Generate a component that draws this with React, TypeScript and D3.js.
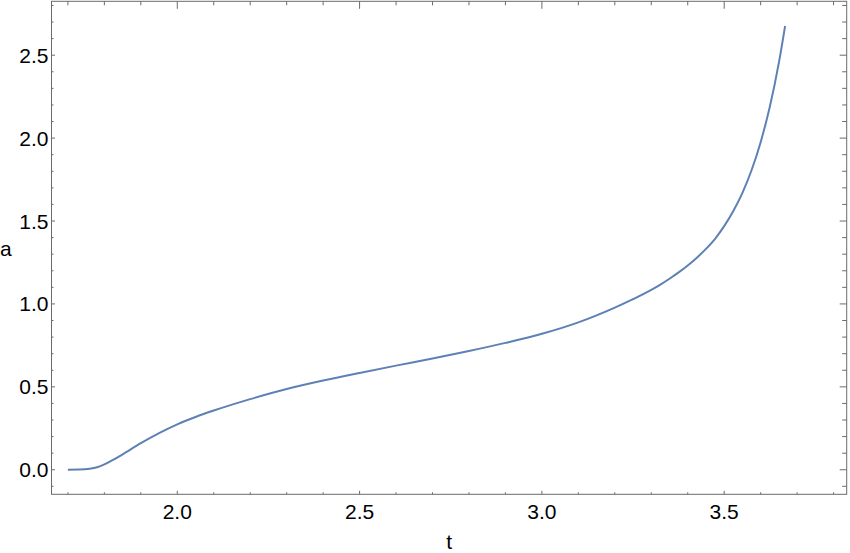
import * as d3 from 'd3';

// curve
const T = [1.70, 1.73, 1.76, 1.78, 1.80, 1.825, 1.85, 1.90, 1.95, 2.00, 2.05, 2.10, 2.20, 2.30, 2.40, 2.50, 2.60, 2.70, 2.80, 2.90, 3.00, 3.10, 3.20, 3.25, 3.30, 3.325, 3.35, 3.375, 3.40, 3.425, 3.45, 3.475, 3.50, 3.525, 3.55, 3.575, 3.60, 3.625, 3.65, 3.667];
const A = [0.000, 0.001, 0.006, 0.015, 0.032, 0.061, 0.093, 0.160, 0.221, 0.274, 0.318, 0.357, 0.426, 0.487, 0.538, 0.584, 0.628, 0.671, 0.716, 0.765, 0.820, 0.889, 0.978, 1.029, 1.085, 1.117, 1.152, 1.190, 1.232, 1.279, 1.332, 1.393, 1.469, 1.560, 1.670, 1.806, 1.975, 2.187, 2.455, 2.676];

const X_MAJOR = [2.0, 2.5, 3.0, 3.5];
const Y_MAJOR = [0.0, 0.5, 1.0, 1.5, 2.0, 2.5];
const X_LABEL = 't';
const Y_LABEL = 'a';

const W = 850, H = 553;
const L = 51.5, R = 846.7, TOP = 1.3, BOT = 494.3;
const FONT = '"Liberation Sans", Arial, sans-serif';
const FRAME = '#6b6b6b';
const LINE = '#5e81b5';

const x = d3.scaleLinear().domain([1.655, 3.836]).range([L, R]);
const y = d3.scaleLinear().domain([-0.148, 2.825]).range([BOT, TOP]);
const fmt = d3.format('.1f');

const isMajor = (v: number) => Math.abs(v * 2 - Math.round(v * 2)) < 1e-6;
const xMinor = d3.range(17, 39).map(i => i / 10).filter(v => !isMajor(v));
const yMinor = d3.range(-1, 29).map(i => i / 10).filter(v => !isMajor(v));

export default function App() {
  const pts = T.map((t, i) => [t, A[i]] as [number, number]);
  const line = d3.line<[number, number]>().x(d => x(d[0])).y(d => y(d[1])).curve(d3.curveMonotoneX);

  return (
    <div style={{ position: 'absolute', left: 0, top: 0 }}>
      <svg width={W} height={H} viewBox={`0 0 ${W} ${H}`} style={{ display: 'block', background: '#fff' }}>
        {/* frame */}
        <rect x={L} y={TOP} width={R - L} height={BOT - TOP} fill="none" stroke={FRAME} strokeWidth={1} />

        {/* bottom / top ticks */}
        {X_MAJOR.map(v => (
          <g key={'xm' + v}>
            <line x1={x(v)} x2={x(v)} y1={BOT} y2={BOT - 3.5} stroke={FRAME} />
            <line x1={x(v)} x2={x(v)} y1={TOP} y2={TOP + 7.5} stroke={FRAME} />
            <text x={x(v)} y={519} textAnchor="middle" fontFamily={FONT} fontSize={21} fill="#000">{fmt(v)}</text>
          </g>
        ))}
        {xMinor.map(v => (
          <g key={'xn' + v}>
            <line x1={x(v)} x2={x(v)} y1={BOT} y2={BOT - 2} stroke={FRAME} />
            <line x1={x(v)} x2={x(v)} y1={TOP} y2={TOP + 4} stroke={FRAME} />
          </g>
        ))}

        {/* left / right ticks */}
        {Y_MAJOR.map(v => (
          <g key={'ym' + v}>
            <line x1={L} x2={L + 3.5} y1={y(v)} y2={y(v)} stroke={FRAME} />
            <line x1={R} x2={R - 7} y1={y(v)} y2={y(v)} stroke={FRAME} />
            <text x={48.5} y={y(v)} dy="0.36em" textAnchor="end" fontFamily={FONT} fontSize={21} fill="#000">{fmt(v)}</text>
          </g>
        ))}
        {yMinor.map(v => (
          <g key={'yn' + v}>
            <line x1={L} x2={L + 2} y1={y(v)} y2={y(v)} stroke={FRAME} />
            <line x1={R} x2={R - 4.5} y1={y(v)} y2={y(v)} stroke={FRAME} />
          </g>
        ))}

        {/* curve */}
        <path d={line(pts) ?? ''} fill="none" stroke={LINE} strokeWidth={2} strokeLinejoin="round" />

        {/* axis titles */}
        <text x={(L + R) / 2} y={549} textAnchor="middle" fontFamily={FONT} fontSize={21} fill="#000">{X_LABEL}</text>
        <text x={0} y={256} fontFamily={FONT} fontSize={21} fill="#000">{Y_LABEL}</text>
      </svg>
    </div>
  );
}
